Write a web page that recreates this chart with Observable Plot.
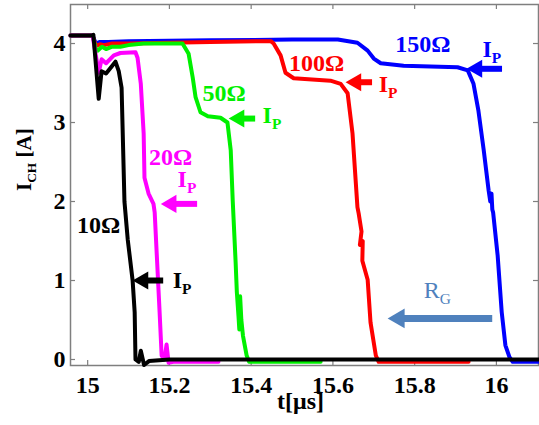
<!DOCTYPE html>
<html><head><meta charset="utf-8">
<script src="https://cdn.jsdelivr.net/npm/d3@7"></script>
<script src="https://cdn.jsdelivr.net/npm/@observablehq/plot@0.6"></script>
<style>html,body{margin:0;padding:0;background:#fff;}</style>
</head><body><div id="chart"></div>
<script>
// ---- data (t in µs, I_CH in A) ----
const xTicks = [15, 15.2, 15.4, 15.6, 15.8, 16];
const yTicks = [0, 1, 2, 3, 4];

const blue150 = [[14.958,4.10],[15.012,4.10],[15.02,4.0],[15.03,4.02],[15.05,4.02],[15.1,4.03],[15.3,4.04],[15.5,4.05],[15.612,4.05],[15.66,4.01],[15.685,3.91],[15.70,3.81],[15.717,3.75],[15.773,3.72],[15.905,3.70],[15.93,3.66],[15.944,3.49],[15.956,3.15],[15.969,2.65],[15.981,2.14],[15.985,2.0],[15.988,2.1],[15.99,1.9],[15.992,1.86],[16.003,1.32],[16.013,0.6],[16.022,0.18],[16.032,0.03],[16.04,-0.03],[16.103,-0.03]];
const red100 = [[14.958,4.10],[15.012,4.10],[15.02,3.97],[15.03,3.99],[15.04,3.98],[15.06,4.0],[15.1,4.0],[15.2,4.01],[15.3,4.02],[15.448,4.03],[15.455,4.0],[15.472,3.85],[15.484,3.63],[15.504,3.56],[15.594,3.53],[15.619,3.49],[15.636,3.37],[15.648,2.86],[15.66,1.93],[15.663,1.85],[15.67,1.62],[15.666,1.45],[15.673,1.5],[15.672,1.25],[15.685,1.01],[15.692,0.47],[15.705,0.05],[15.712,-0.03],[15.932,-0.03]];
const green50 = [[14.958,4.10],[15.012,4.10],[15.02,3.93],[15.024,3.91],[15.035,3.96],[15.045,3.93],[15.06,3.96],[15.08,3.96],[15.1,3.98],[15.137,4.0],[15.232,4.0],[15.247,3.87],[15.257,3.57],[15.264,3.32],[15.276,3.13],[15.294,3.08],[15.325,3.06],[15.342,3.0],[15.35,2.65],[15.355,2.0],[15.362,1.23],[15.365,0.85],[15.369,0.55],[15.371,0.38],[15.373,0.8],[15.376,0.5],[15.38,0.3],[15.389,0.05],[15.395,-0.03],[15.57,-0.03]];
const magenta20 = [[14.958,4.10],[15.012,4.10],[15.02,3.85],[15.027,3.63],[15.034,3.80],[15.045,3.75],[15.064,3.85],[15.08,3.88],[15.117,3.89],[15.122,3.82],[15.13,3.49],[15.137,2.86],[15.139,2.30],[15.149,2.10],[15.161,1.97],[15.164,1.86],[15.176,0.6],[15.181,0.05],[15.188,0.0],[15.193,0.19],[15.198,-0.04],[15.21,-0.03],[15.32,-0.03]];
const black10 = [[14.958,4.10],[15.01,4.10],[15.014,4.11],[15.027,3.30],[15.034,3.65],[15.045,3.62],[15.068,3.77],[15.076,3.65],[15.083,3.44],[15.09,2.0],[15.098,1.52],[15.11,1.0],[15.115,0.6],[15.117,0.0],[15.125,-0.03],[15.13,0.11],[15.138,-0.07],[15.15,-0.02],[15.2,0.0],[16.103,0.0]];

const seriesData = [blue150, red100, green50, magenta20, black10];
const seriesColors = ["#0000ff", "#ff0000", "#00f000", "#ff00ff", "#000000"];

const ohmLabels = [
  {text: "150Ω", t: 15.82, i: 3.99, c: "#0000ff"},
  {text: "100Ω", t: 15.56, i: 3.75, c: "#ff0000"},
  {text: "50Ω",  t: 15.334, i: 3.37, c: "#00f000"},
  {text: "20Ω",  t: 15.203, i: 2.56, c: "#ff00ff"},
  {text: "10Ω",  t: 15.027, i: 1.70, c: "#000000"}
];
const ipLabels = [
  {text: "I_{P}", t: 15.966, i: 3.93, c: "#0000ff"},
  {text: "I_{P}", t: 15.712, i: 3.48, c: "#ff0000"},
  {text: "I_{P}", t: 15.428, i: 3.09, c: "#00f000"},
  {text: "I_{P}", t: 15.22,  i: 2.28, c: "#ff00ff"},
  {text: "I_{P}", t: 15.208, i: 1.00, c: "#000000"}
];
const ipArrows = [
  {tip: 15.927, tail: 16.015, i: 3.68, c: "#0000ff"},
  {tip: 15.631, tail: 15.697, i: 3.51, c: "#ff0000"},
  {tip: 15.345, tail: 15.411, i: 3.05, c: "#00f000"},
  {tip: 15.179, tail: 15.269, i: 1.97, c: "#ff00ff"},
  {tip: 15.11,  tail: 15.186, i: 1.00, c: "#000000"}
];
const rgLabel = [{text: "R_{G}", t: 15.822, i: 0.87}];
const rgArrow = [{tip: 15.734, tail: 15.991, i: 0.52}];
const rgColor = "#4f81bd";

// ---- chart ----
const serif = "'Liberation Serif', 'Times New Roman', serif";
const gray = "#7f7f7f";
const innerH = 425 - 4 - 60, innerW = 539 - 70 - 1;

const lineMarks = seriesData.map((d, k) =>
  Plot.line(d, {x: p => p[0], y: p => p[1], stroke: seriesColors[k], strokeWidth: 4, strokeLinejoin: "round", strokeLinecap: "round"})
);

const chart = Plot.plot({
  width: 539, height: 425,
  marginLeft: 70, marginRight: 1, marginTop: 4, marginBottom: 60,
  style: {fontFamily: serif, background: "#fff"},
  x: {domain: [14.958, 16.103]},
  y: {domain: [-0.076, 4.494]},
  marks: [
    Plot.frame({stroke: gray, strokeWidth: 1.5}),
    Plot.tickX(xTicks, {x: d => d, insetTop: innerH - 5, stroke: gray, strokeWidth: 1.2}),
    Plot.tickX(xTicks, {x: d => d, insetBottom: innerH - 5, stroke: gray, strokeWidth: 1.2}),
    Plot.tickY(yTicks, {y: d => d, insetRight: innerW - 5, stroke: gray, strokeWidth: 1.2}),
    Plot.tickY(yTicks, {y: d => d, insetLeft: innerW - 5, stroke: gray, strokeWidth: 1.2}),
    Plot.axisX({ticks: xTicks, tickSize: 0, tickPadding: 10, tickFormat: d => String(d), fontSize: 24, fontWeight: "bold", fill: "#000", label: null}),
    Plot.axisY({ticks: yTicks, tickSize: 0, tickPadding: 5, tickFormat: d => String(d), fontSize: 24, fontWeight: "bold", fill: "#000", label: null}),
    Plot.text(["t[μs]"], {text: d => d, frameAnchor: "bottom", dy: 43, dx: -4, fontSize: 24, fontWeight: "bold", fill: "#000"}),
    Plot.text(["I_{CH} [A]"], {text: d => d, frameAnchor: "left", dx: -46, dy: 6, rotate: -90, fontSize: 21, fontWeight: "bold", fill: "#000"}),
    ...lineMarks,
    // I_P arrows
    Plot.ruleY(ipArrows, {y: "i", x1: "tip", x2: "tail", insetLeft: 10, stroke: "c", strokeWidth: 6}),
    Plot.dot(ipArrows, {x: "tip", y: "i", symbol: "triangle", r: 6.7, rotate: -90, dx: 10.4, fill: "c", stroke: null}),
    // R_G arrow
    Plot.ruleY(rgArrow, {y: "i", x1: "tip", x2: "tail", insetLeft: 11, stroke: rgColor, strokeWidth: 7}),
    Plot.dot(rgArrow, {x: "tip", y: "i", symbol: "triangle", r: 7.3, rotate: -90, dx: 11.3, fill: rgColor, stroke: null}),
    // labels
    Plot.text(ohmLabels, {x: "t", y: "i", text: "text", fill: "c", fontSize: 24, fontWeight: "bold"}),
    Plot.text(ipLabels, {x: "t", y: "i", text: "text", fill: "c", fontSize: 24, fontWeight: "bold", textAnchor: "start"}),
    Plot.text(rgLabel, {x: "t", y: "i", text: "text", fill: rgColor, fontSize: 24, textAnchor: "start"})
  ]
});

document.getElementById("chart").appendChild(chart);

// render "_{...}" as subscripts
chart.querySelectorAll("text").forEach(el => {
  const s = el.textContent;
  if (!s.includes("_{")) return;
  const fs = parseFloat(getComputedStyle(el).fontSize) || 24;
  const parts = s.split(/(_\{[^}]*\})/).filter(p => p);
  el.textContent = "";
  let shifted = false;
  for (const p of parts) {
    const ts = document.createElementNS("http://www.w3.org/2000/svg", "tspan");
    if (p.startsWith("_{")) {
      ts.textContent = p.slice(2, -1);
      ts.setAttribute("font-size", (fs * 0.64).toFixed(1));
      ts.setAttribute("dy", (fs * 0.24).toFixed(1));
      shifted = true;
    } else {
      ts.textContent = p;
      if (shifted) { ts.setAttribute("dy", (-fs * 0.24).toFixed(1)); shifted = false; }
    }
    el.appendChild(ts);
  }
});
</script>
</body></html>
